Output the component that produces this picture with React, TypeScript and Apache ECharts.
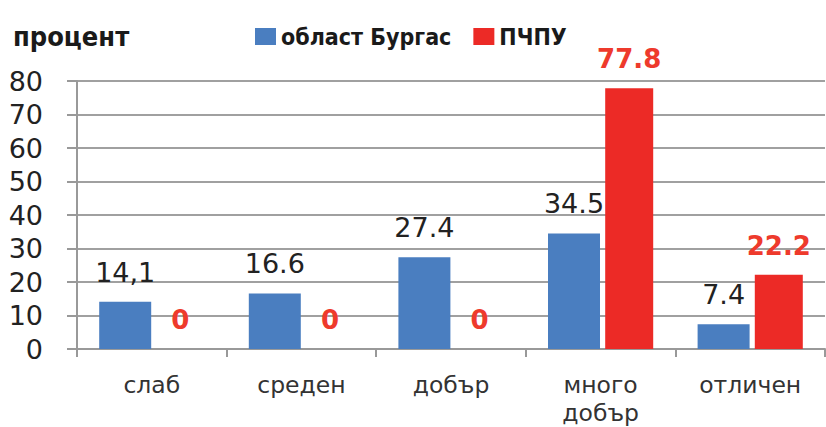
import React, { useEffect, useRef } from "react";
import * as echarts from "echarts";

const categories = ["слаб", "среден", "добър", "много\nдобър", "отличен"];
const burgasValues = [14.1, 16.6, 27.4, 34.5, 7.4];
const burgasLabels = ["14,1", "16.6", "27.4", "34.5", "7.4"];
const pchpuValues = [0, 0, 0, 77.8, 22.2];
const pchpuLabels = ["0", "0", "0", "77.8", "22.2"];
const yTicks = { min: 0, max: 80, interval: 10 };

const condensed =
  "'DejaVu Sans Condensed', 'Liberation Sans Narrow', 'Roboto Condensed', 'DejaVu Sans', sans-serif";

export default function App() {
  const ref = useRef<HTMLDivElement>(null);
  useEffect(() => {
    if (!ref.current) return;
    const chart = echarts.init(ref.current, null, { renderer: "svg" });
    chart.setOption({
      animation: false,
      backgroundColor: "#ffffff",
      legend: {
        top: 20,
        left: 250,
        itemWidth: 21,
        itemHeight: 17,
        itemGap: 22,
        icon: "rect",
        textStyle: {
          fontFamily: condensed,
          fontWeight: "bold",
          fontSize: 23,
          color: "#1a1a1a",
          padding: [0, 0, 0, 0],
        },
        data: ["област Бургас", "ПЧПУ"],
      },
      graphic: [
        {
          type: "text",
          left: 13,
          top: 23,
          style: {
            text: "процент",
            font: "bold 27px " + condensed,
            fill: "#1a1a1a",
          },
        },
      ],
      grid: { left: 77, right: 1, top: 81, bottom: 77 },
      xAxis: {
        type: "category",
        data: categories,
        axisLine: { lineStyle: { color: "#999", width: 2 } },
        axisTick: { show: true, length: 8, lineStyle: { color: "#999", width: 2 } },
        axisLabel: {
          fontFamily: "DejaVu Sans, sans-serif",
          fontSize: 23.5,
          color: "#333",
          margin: 22,
          lineHeight: 28,
        },
      },
      yAxis: {
        type: "value",
        min: yTicks.min,
        max: yTicks.max,
        interval: yTicks.interval,
        axisLine: { show: true, lineStyle: { color: "#999", width: 2 } },
        axisTick: { show: true, length: 10, lineStyle: { color: "#999", width: 2 } },
        splitLine: { lineStyle: { color: "#a0a0a0", width: 2 } },
        axisLabel: {
          fontFamily: "DejaVu Sans, sans-serif",
          fontSize: 27,
          color: "#222",
          margin: 34,
        },
      },
      series: [
        {
          name: "област Бургас",
          type: "bar",
          data: burgasValues,
          barWidth: 52,
          barGap: "10%",
          itemStyle: { color: "#4a7ec0" },
          label: {
            show: true,
            position: "top",
            distance: 16,
            fontFamily: "DejaVu Sans, sans-serif",
            fontSize: 27,
            color: "#222",
            formatter: (p: any) => burgasLabels[p.dataIndex],
          },
        },
        {
          name: "ПЧПУ",
          type: "bar",
          data: pchpuValues,
          barWidth: 48,
          itemStyle: { color: "#ec2a26" },
          label: {
            show: true,
            position: "top",
            distance: 16,
            fontFamily: "DejaVu Sans, sans-serif",
            fontWeight: "bold",
            fontSize: 26,
            color: "#ee3a2c",
            formatter: (p: any) => pchpuLabels[p.dataIndex],
          },
        },
      ],
    });
    return () => chart.dispose();
  }, []);
  return (
    <div
      ref={ref}
      style={{ position: "fixed", left: 0, top: 0, width: 826, height: 427 }}
    />
  );
}
